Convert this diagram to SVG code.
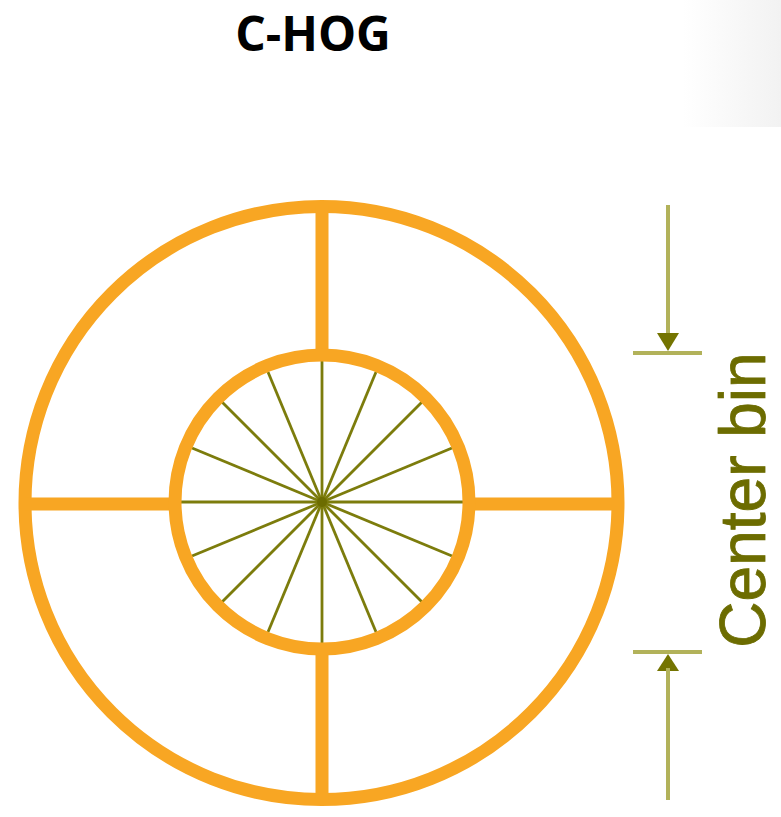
<svg xmlns="http://www.w3.org/2000/svg" width="781" height="817" viewBox="0 0 781 817">
<defs>
<linearGradient id="shade" x1="0" y1="0" x2="1" y2="0">
<stop offset="0" stop-color="#ffffff"/>
<stop offset="1" stop-color="#f2f2f2"/>
</linearGradient>
<style>
.ring{fill:none;stroke:#f8a623;stroke-width:13}
.bar{stroke:#f8a623;stroke-width:13;stroke-linecap:butt}
.spoke{stroke:#7c7c0c;stroke-width:2.8}
.dim{stroke:#b2b25a;stroke-width:4}
.head{fill:#747400}
.title{font-family:"Open Sans","Liberation Sans",sans-serif;font-weight:bold;font-size:48px;fill:#000}
.lbl{font-family:"Liberation Sans",Arial,sans-serif;font-size:64px;fill:#6c6c00;stroke:#6c6c00;stroke-width:0.8}
</style>
</defs>
<rect width="781" height="817" fill="#ffffff"/>
<rect x="683" y="0" width="98" height="127" fill="url(#shade)"/>
<text class="title" x="313" y="51" text-anchor="middle">C-HOG</text>
<g id="outer-ring">
<circle class="ring" cx="321.5" cy="503" r="296.5"/>
<line class="bar" x1="25" y1="504" x2="176" y2="504"/>
<line class="bar" x1="468" y1="504" x2="618" y2="504"/>
<line class="bar" x1="322" y1="206" x2="322" y2="356"/>
<line class="bar" x1="322" y1="650" x2="322" y2="800"/>
</g>
<g id="center-bin">
<g id="spokes">
<line class="spoke" x1="322" y1="502" x2="322" y2="361"/>
<line class="spoke" x1="322" y1="502" x2="376" y2="372"/>
<line class="spoke" x1="322" y1="502" x2="422" y2="402"/>
<line class="spoke" x1="322" y1="502" x2="452" y2="448"/>
<line class="spoke" x1="322" y1="502" x2="463" y2="502"/>
<line class="spoke" x1="322" y1="502" x2="452" y2="556"/>
<line class="spoke" x1="322" y1="502" x2="422" y2="602"/>
<line class="spoke" x1="322" y1="502" x2="376" y2="632"/>
<line class="spoke" x1="322" y1="502" x2="322" y2="643"/>
<line class="spoke" x1="322" y1="502" x2="268" y2="632"/>
<line class="spoke" x1="322" y1="502" x2="222" y2="602"/>
<line class="spoke" x1="322" y1="502" x2="192" y2="556"/>
<line class="spoke" x1="322" y1="502" x2="181" y2="502"/>
<line class="spoke" x1="322" y1="502" x2="192" y2="448"/>
<line class="spoke" x1="322" y1="502" x2="222" y2="402"/>
<line class="spoke" x1="322" y1="502" x2="268" y2="372"/>
<circle cx="322" cy="502" r="5" fill="#6c6c00"/>
</g>
<circle class="ring" cx="322" cy="502" r="147"/>
</g>
<g id="connectors">
<line class="dim" x1="668" y1="205" x2="668" y2="336"/>
<polygon class="head" points="657,333 679,333 668,351"/>
<line class="dim" x1="633" y1="353" x2="702" y2="353"/>
<line class="dim" x1="633" y1="652" x2="702" y2="652"/>
<polygon class="head" points="657,671 679,671 668,654"/>
<line class="dim" x1="668" y1="668" x2="668" y2="800"/>
</g>
<g id="label">
<text class="lbl" transform="translate(765,500) rotate(-90)" text-anchor="middle">Center bin</text>
</g>
</svg>
